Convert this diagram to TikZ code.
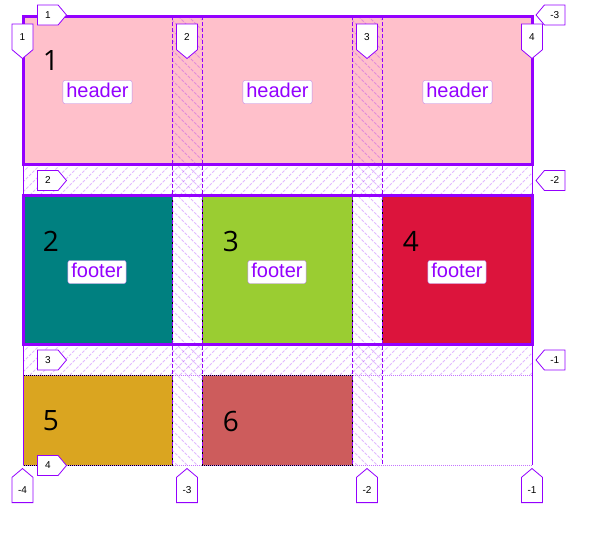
\documentclass[tikz,border=0pt]{standalone}
\usepackage{fontspec}
\setmainfont{Liberation Sans}
\newfontfamily\numfont{Open Sans}
\usetikzlibrary{shapes.symbols}
\definecolor{gridpurple}{HTML}{9400FF}
\definecolor{labelborder}{HTML}{B983E8}
\definecolor{pinkc}{HTML}{FFC0CB}
\definecolor{tealc}{HTML}{008080}
\definecolor{greenc}{HTML}{9ACD32}
\definecolor{crimsonc}{HTML}{DC143C}
\definecolor{goldc}{HTML}{DAA520}
\definecolor{redc}{HTML}{CD5C5C}
\tikzset{
  itembox/.style={draw=black, line width=0.8pt},
  arealine/.style={draw=gridpurple, line width=3pt},
  edgeline/.style={draw=gridpurple, line width=0.9pt},
  colline/.style={draw=gridpurple, line width=0.8pt, dash pattern=on 4pt off 2pt},
  rowline/.style={draw=gridpurple!55, line width=0.6pt, dash pattern=on 1pt off 1pt},
  hatchline/.style={draw=gridpurple, draw opacity=0.28, line width=1pt, dash pattern=on 3pt off 1.5pt},
  numlabel/.style={font=\numfont\fontsize{28}{28}\selectfont, text=black, inner sep=0pt},
  arealabel/.style={draw=labelborder, fill=white, rounded corners=2pt, text=gridpurple,
    font=\fontsize{20}{20}\selectfont, inner xsep=3.5pt, inner ysep=2pt, text height=15pt, text depth=4pt},
  badge/.style={shape=signal, draw=gridpurple, fill=white, line width=0.8pt,
    font=\fontsize{10}{10}\selectfont, inner sep=0pt, signal pointer angle=100},
  badgeE/.style={badge, signal to=east, minimum width=29pt, minimum height=20pt},
  badgeW/.style={badge, signal to=west, minimum width=29pt, minimum height=20pt},
  badgeS/.style={badge, signal to=south, minimum width=21pt, minimum height=28pt},
  badgeN/.style={badge, signal to=north, minimum width=21pt, minimum height=29pt},
}
\begin{document}
\begin{tikzpicture}[x=1pt,y=-1pt]
\useasboundingbox (0,0) rectangle (616,539);
% item backgrounds
\fill[pinkc] (23,16) rectangle (532,164);
% hatching of gaps
\begin{scope}
  \clip (23,164) rectangle (532,195) (23,344) rectangle (532,375);
  \foreach \x in {-30,-20,...,540} {
    \draw[hatchline] (\x,195) -- ++(31,-31);
    \draw[hatchline] (\x,375) -- ++(31,-31);
  }
\end{scope}
\begin{scope}
  \clip (172,16) rectangle (202,465) (352,16) rectangle (382,465);
  \foreach \y in {-30,-20,...,470} {
    \draw[hatchline] (172,\y) -- ++(30,30);
    \draw[hatchline] (352,\y) -- ++(30,30);
  }
\end{scope}
% items
\node[itembox, fill=tealc, minimum width=149pt, minimum height=149pt, inner sep=0pt] (i2) at (97.5,269.5) {};
\node[itembox, fill=greenc, minimum width=150pt, minimum height=149pt, inner sep=0pt] (i3) at (277,269.5) {};
\node[itembox, fill=crimsonc, minimum width=150pt, minimum height=149pt, inner sep=0pt] (i4) at (457,269.5) {};
\node[itembox, fill=goldc, minimum width=149pt, minimum height=90pt, inner sep=0pt] (i5) at (97.5,420) {};
\node[itembox, fill=redc, minimum width=150pt, minimum height=90pt, inner sep=0pt] (i6) at (277,420) {};
% grid lines
\foreach \x in {172,202,352,382} \draw[colline] (\x,16) -- (\x,465);
\draw[rowline] (23,375) -- (532,375);
\draw[rowline] (23,465) -- (532,465);
\draw[edgeline] (23,16) -- (23,465);
\draw[edgeline] (532,16) -- (532,465);
% area outlines
\draw[arealine] (23,16) rectangle (532,164);
\draw[arealine] (23,195) rectangle (532,344);
% item numbers
\node[numlabel] (n1) at (51,61) {1};
\node[numlabel] (n2) at (51,241) {2};
\node[numlabel] (n3) at (231,241) {3};
\node[numlabel] (n4) at (411,241) {4};
\node[numlabel] (n5) at (51,421) {5};
\node[numlabel] (n6) at (231,421) {6};
% area labels
\node[arealabel] (h1) at (97.5,92) {header};
\node[arealabel] (h2) at (277.5,92) {header};
\node[arealabel] (h3) at (457.5,92) {header};
\node[arealabel] (f1) at (97,272) {footer};
\node[arealabel] (f2) at (277,272) {footer};
\node[arealabel] (f3) at (457,272) {footer};
% line number badges
\node[badgeE, anchor=east] (r1) at (67,15) {1};
\node[badgeE, anchor=east] (r2) at (67,180.5) {2};
\node[badgeE, anchor=east] (r3) at (67,360) {3};
\node[badgeE, anchor=east] (r4) at (67,465.5) {4};
\node[badgeW, anchor=west] (rm3) at (535.5,15) {-3};
\node[badgeW, anchor=west] (rm2) at (535.5,180.5) {-2};
\node[badgeW, anchor=west] (rm1) at (535.5,360) {-1};
\node[badgeS, anchor=south] (c1) at (22.5,59) {1};
\node[badgeS, anchor=south] (c2) at (187,59) {2};
\node[badgeS, anchor=south] (c3) at (367,59) {3};
\node[badgeS, anchor=south] (c4) at (532,59) {4};
\node[badgeN, anchor=north] (cm4) at (22.5,468) {-4};
\node[badgeN, anchor=north] (cm3) at (187,468) {-3};
\node[badgeN, anchor=north] (cm2) at (367,468) {-2};
\node[badgeN, anchor=north] (cm1) at (532,468) {-1};
\end{tikzpicture}
\end{document}
